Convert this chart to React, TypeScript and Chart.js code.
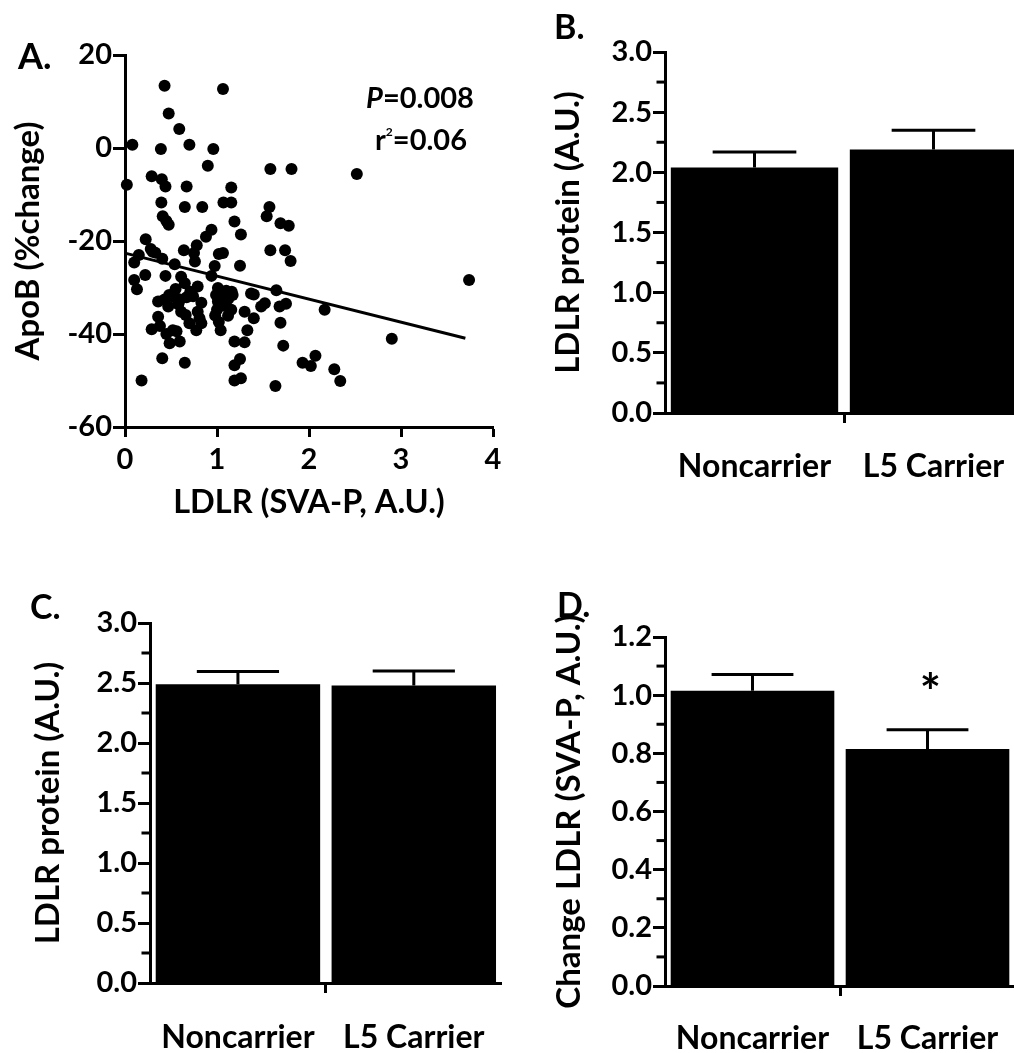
import { useEffect, useRef } from 'react';
import { Chart, registerables } from 'chart.js';

Chart.register(...registerables);

const FONT = 'Lato, "DejaVu Sans", sans-serif';
const BLACK = '#000';

// ---- Panel A: scatter of LDLR vs ApoB change ----
const ldlrX = [
  0.43, 1.065, 0.475, 0.59, 0.08, 0.39, 0.70, 0.96, 0.90, 1.58,
  1.81, 2.52, 0.02, 0.29, 0.40, 0.44, 0.67, 1.155, 0.395, 0.65,
  0.84, 1.07, 1.155, 1.57, 1.54, 0.41, 0.45, 0.475, 1.19, 1.26,
  1.69, 1.78, 0.94, 0.88, 0.225, 0.28, 0.30, 0.64, 0.78, 0.75,
  1.02, 1.065, 1.58, 1.74, 1.80, 0.15, 0.10, 0.405, 0.54, 0.76,
  0.975, 1.25, 0.22, 0.44, 0.10, 0.13, 0.61, 0.65, 0.79, 0.94,
  1.01, 1.10, 1.16, 1.37, 1.40, 1.645, 3.74, 0.36, 0.43, 0.48,
  0.54, 0.60, 0.67, 0.71, 0.74, 0.99, 1.01, 1.05, 1.12, 1.17,
  1.48, 1.52, 1.68, 1.75, 2.17, 0.61, 0.79, 1.00, 1.155, 1.30,
  0.36, 0.81, 1.40, 1.02, 0.83, 1.69, 0.29, 0.38, 0.52, 0.70,
  0.775, 1.04, 1.33, 2.90, 0.485, 0.595, 0.56, 1.19, 1.30, 1.72,
  0.405, 0.65, 1.25, 1.19, 1.93, 2.02, 2.07, 2.275, 0.18, 1.19,
  1.26, 1.635, 2.34, 0.55, 0.58, 0.47, 0.66, 0.83, 1.08, 1.12,
  0.98, 0.45, 0.33,
];
const apobChange = [
  13.4, 12.7, 7.4, 4.1, 0.7, -0.2, 0.7, -0.2, -3.8, -4.5,
  -4.5, -5.6, -7.9, -6.1, -6.7, -8.3, -8.3, -8.5, -11.7, -12.7,
  -12.7, -11.7, -11.7, -12.7, -14.7, -14.7, -15.7, -16.5, -15.8, -18.6,
  -16.2, -16.7, -17.6, -19.1, -19.6, -21.7, -22.3, -22.0, -20.9, -22.6,
  -22.8, -22.6, -22.0, -22.0, -24.3, -23.0, -24.6, -23.8, -25.0, -24.4,
  -25.4, -25.3, -27.3, -27.5, -28.4, -30.4, -27.7, -29.1, -29.8, -27.5,
  -30.1, -30.7, -30.9, -31.3, -31.5, -30.6, -28.4, -33.0, -32.6, -31.6,
  -32.1, -32.6, -32.1, -30.9, -31.9, -31.6, -33.0, -32.6, -32.5, -31.6,
  -34.1, -33.4, -34.1, -33.5, -34.8, -35.2, -35.2, -34.8, -34.8, -35.2,
  -36.3, -36.6, -36.6, -37.4, -37.7, -37.6, -39.0, -38.3, -39.2, -37.7,
  -39.2, -39.2, -39.2, -41.0, -42.0, -41.6, -39.4, -41.6, -41.8, -42.5,
  -45.2, -46.2, -45.4, -46.7, -46.2, -46.9, -44.7, -47.6, -50.0, -50.0,
  -49.5, -51.2, -50.1, -30.3, -33.6, -34.1, -35.9, -33.3, -33.9, -36.1,
  -36.0, -40.0, -22.5,
];
const fitLineX = [0, 3.7];
const fitLineY = [-22.6, -40.9];

// ---- Panels B, C, D: bar charts ----
const groups = ['Noncarrier', 'L5 Carrier'];
const proteinB = [2.04, 2.19];
const proteinBSem = [0.13, 0.16];
const proteinC = [2.49, 2.48];
const proteinCSem = [0.105, 0.12];
const changeD = [1.015, 0.815];
const changeDSem = [0.056, 0.066];
const significanceD = ['', '*'];

const tickFont = { family: FONT, size: 29, weight: 'bold' as const };
const categoryFont = { family: FONT, size: 32, weight: 'bold' as const };

function yAxis(o: {
  min: number; max: number; step: number; decimals: number; width: number;
  title: string; titleSize: number; titlePad: number; tickLen: number;
}) {
  return {
    min: o.min,
    max: o.max,
    ticks: {
      stepSize: o.step,
      font: tickFont,
      color: BLACK,
      padding: 1,
      callback: (v: any) => Number(v).toFixed(o.decimals),
    },
    grid: {
      display: true,
      drawOnChartArea: false,
      drawTicks: true,
      tickLength: o.tickLen,
      tickWidth: 3,
      color: BLACK,
    },
    border: { display: true, width: 3, color: BLACK },
    title: {
      display: true,
      text: o.title,
      color: BLACK,
      font: { family: FONT, size: o.titleSize, weight: 'bold' as const },
      padding: { top: o.titlePad, bottom: 0 },
    },
    afterFit: (s: any) => {
      s.width = o.width;
    },
  };
}

const minorTickPlugin = {
  id: 'minorTicks',
  afterDraw(chart: any) {
    const s = chart.scales.y;
    const ctx = chart.ctx;
    ctx.save();
    ctx.strokeStyle = BLACK;
    ctx.lineWidth = 3;
    for (let i = 0; i < s.ticks.length - 1; i++) {
      const mid = (s.ticks[i].value + s.ticks[i + 1].value) / 2;
      const py = s.getPixelForValue(mid);
      ctx.beginPath();
      ctx.moveTo(s.right, py);
      ctx.lineTo(s.right - 8.5, py);
      ctx.stroke();
    }
    ctx.restore();
  },
};

function errorBarPlugin(errors: number[], marks: string[] = []) {
  return {
    id: 'errorBars',
    afterDatasetsDraw(chart: any) {
      const meta = chart.getDatasetMeta(0);
      const ys = chart.scales.y;
      const values = chart.data.datasets[0].data as number[];
      const ctx = chart.ctx;
      ctx.save();
      ctx.strokeStyle = BLACK;
      ctx.fillStyle = BLACK;
      ctx.lineWidth = 3;
      meta.data.forEach((bar: any, i: number) => {
        const yTop = ys.getPixelForValue(values[i] + errors[i]);
        const half = bar.width / 4;
        ctx.beginPath();
        ctx.moveTo(bar.x, bar.y);
        ctx.lineTo(bar.x, yTop);
        ctx.moveTo(bar.x - half, yTop);
        ctx.lineTo(bar.x + half, yTop);
        ctx.stroke();
        if (marks[i]) {
          ctx.font = `bold 50px ${FONT}`;
          ctx.textAlign = 'center';
          ctx.textBaseline = 'alphabetic';
          ctx.fillText(marks[i], bar.x + 3, yTop - 20);
        }
      });
      ctx.restore();
    },
  };
}

function barConfig(o: {
  values: number[]; errors: number[]; marks?: string[];
  min: number; max: number; step: number;
  yWidth: number; xHeight: number; padTop: number; padRight: number;
  title: string; titlePad: number; labelPad: number;
}) {
  return {
    type: 'bar' as const,
    data: {
      labels: groups,
      datasets: [
        {
          data: o.values,
          backgroundColor: BLACK,
          borderWidth: 0,
          barPercentage: 0.935,
          categoryPercentage: 1,
        },
      ],
    },
    options: {
      responsive: false,
      animation: false as const,
      events: [],
      layout: { padding: { top: o.padTop, right: o.padRight, left: 0, bottom: 0 } },
      plugins: { legend: { display: false }, tooltip: { enabled: false } },
      scales: {
        x: {
          type: 'category' as const,
          offset: true,
          grid: {
            offset: true,
            display: true,
            drawOnChartArea: false,
            drawTicks: true,
            tickLength: 10,
            tickWidth: 3,
            color: (c: any) => (c.index === 1 ? BLACK : 'rgba(0,0,0,0)'),
          },
          border: { display: true, width: 3, color: BLACK },
          ticks: { font: categoryFont, color: BLACK, padding: o.labelPad, maxRotation: 0 },
          afterFit: (s: any) => {
            s.height = o.xHeight;
          },
        },
        y: yAxis({
          min: o.min, max: o.max, step: o.step, decimals: 1, width: o.yWidth,
          title: o.title, titleSize: 33, titlePad: o.titlePad, tickLen: 12,
        }),
      },
    },
    plugins: [minorTickPlugin, errorBarPlugin(o.errors, o.marks)],
  };
}

function scatterConfig() {
  const pts = ldlrX.map((x, i) => ({ x, y: apobChange[i] }));
  const fit = fitLineX.map((x, i) => ({ x, y: fitLineY[i] }));
  return {
    type: 'scatter' as const,
    data: {
      datasets: [
        {
          data: pts,
          pointRadius: 6,
          pointBackgroundColor: BLACK,
          pointBorderWidth: 0,
          backgroundColor: BLACK,
          clip: false as any,
        },
        {
          data: fit,
          showLine: true,
          borderColor: BLACK,
          borderWidth: 3,
          pointRadius: 0,
          fill: false,
          clip: false as any,
        },
      ],
    },
    options: {
      responsive: false,
      animation: false as const,
      events: [],
      layout: { padding: { top: 55, right: 17, left: 0, bottom: 0 } },
      plugins: { legend: { display: false }, tooltip: { enabled: false } },
      scales: {
        x: {
          type: 'linear' as const,
          min: 0,
          max: 4,
          ticks: {
            stepSize: 1,
            font: tickFont,
            color: BLACK,
            padding: 5,
            maxRotation: 0,
            callback: (v: any) => String(v),
          },
          grid: {
            display: true,
            drawOnChartArea: false,
            drawTicks: true,
            tickLength: 10,
            tickWidth: 3,
            color: BLACK,
          },
          border: { display: true, width: 3, color: BLACK },
          title: {
            display: true,
            text: 'LDLR (SVA-P, A.U.)',
            color: BLACK,
            font: { family: FONT, size: 32.5, weight: 'bold' as const },
            padding: { top: 0, bottom: 18 },
          },
          afterFit: (s: any) => {
            s.height = 113;
          },
        },
        y: yAxis({
          min: -60, max: 20, step: 20, decimals: 0, width: 125,
          title: 'ApoB (%change)', titleSize: 33, titlePad: 9, tickLen: 12,
        }),
      },
    },
  };
}

function ChartPanel(props: { left: number; top: number; width: number; height: number; make: () => any }) {
  const ref = useRef<HTMLCanvasElement>(null);
  useEffect(() => {
    const chart = new Chart(ref.current as HTMLCanvasElement, props.make());
    return () => chart.destroy();
  }, []);
  return (
    <canvas
      ref={ref}
      width={props.width}
      height={props.height}
      style={{ position: 'absolute', left: props.left, top: props.top, width: props.width, height: props.height }}
    />
  );
}

const letterStyle = (left: number, top: number, size: number) => ({
  position: 'absolute' as const,
  left,
  top,
  fontSize: size,
  lineHeight: 1,
  fontWeight: 'bold' as const,
  whiteSpace: 'nowrap' as const,
});

const centered = (cx: number, cy: number, size: number) => ({
  position: 'absolute' as const,
  left: cx,
  top: cy,
  transform: 'translate(-50%, -50%)',
  fontSize: size,
  lineHeight: 1,
  fontWeight: 'bold' as const,
  whiteSpace: 'nowrap' as const,
});

export default function App() {
  return (
    <div
      style={{
        position: 'absolute',
        left: 0,
        top: 0,
        width: 1014,
        height: 1053,
        overflow: 'hidden',
        background: '#fff',
        fontFamily: FONT,
        color: BLACK,
      }}
    >
      <ChartPanel left={0} top={0} width={510} height={540} make={scatterConfig} />
      <ChartPanel
        left={510}
        top={0}
        width={520}
        height={540}
        make={() =>
          barConfig({
            values: proteinB, errors: proteinBSem, min: 0, max: 3, step: 0.5,
            yWidth: 155, xHeight: 127, padTop: 52, padRight: 7,
            title: 'LDLR protein (A.U.)', titlePad: 39, labelPad: 24,
          })
        }
      />
      <ChartPanel
        left={0}
        top={540}
        width={510}
        height={513}
        make={() =>
          barConfig({
            values: proteinC, errors: proteinCSem, min: 0, max: 3, step: 0.5,
            yWidth: 150, xHeight: 70, padTop: 83, padRight: 2,
            title: 'LDLR protein (A.U.)', titlePad: 29, labelPad: 25,
          })
        }
      />
      <ChartPanel
        left={510}
        top={540}
        width={520}
        height={513}
        make={() =>
          barConfig({
            values: changeD, errors: changeDSem, marks: significanceD, min: 0, max: 1.2, step: 0.2,
            yWidth: 155, xHeight: 67, padTop: 97, padRight: 15,
            title: 'Change LDLR (SVA-P, A.U.)', titlePad: 40, labelPad: 23,
          })
        }
      />
      <div style={letterStyle(18, 37, 36)}>A.</div>
      <div style={letterStyle(554, 9, 34)}>B.</div>
      <div style={letterStyle(30, 589, 34)}>C.</div>
      <div style={letterStyle(557, 587, 34)}>D.</div>
      <div style={centered(420, 96, 29)}>
        <i>P</i>=0.008
      </div>
      <div style={centered(421, 138, 29)}>
        r<span style={{ position: 'relative', top: -14, fontSize: 12 }}>2</span>=0.06
      </div>
    </div>
  );
}
